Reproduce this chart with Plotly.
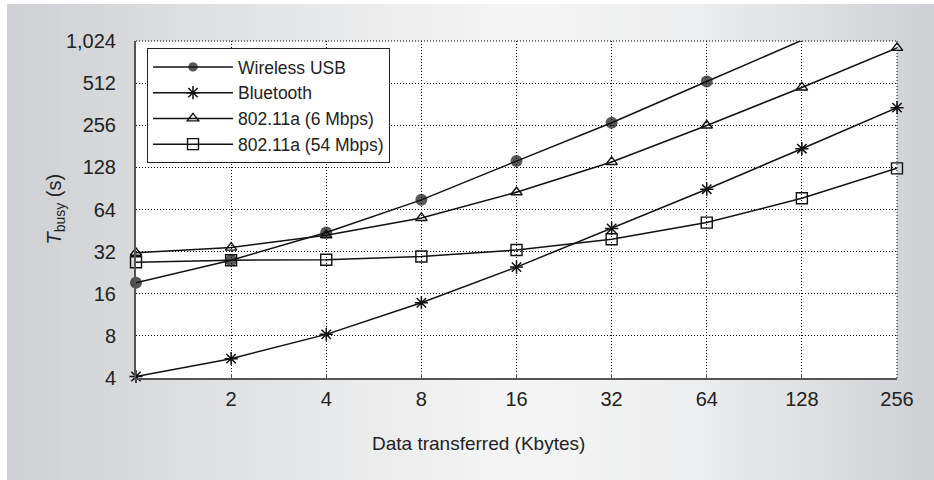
import plotly.graph_objects as go

# ---- data ----
x_kbytes = [1, 2, 4, 8, 16, 32, 64, 128, 256]
wireless_usb = [19.2, 27.8, 43.8, 75, 142, 267, 526, 1036, None]
bluetooth = [4.1, 5.5, 8.2, 13.8, 24.8, 46.8, 89.4, 174, 342]
wifi_6 = [31.4, 34.2, 41.9, 55.7, 85, 140, 255, 477, 915]
wifi_54 = [26.9, 27.8, 28.0, 29.5, 32.9, 39.2, 51.6, 77, 126]

series_names = ["Wireless USB", "Bluetooth", "802.11a (6 Mbps)", "802.11a (54 Mbps)"]
x_tickvals = [2, 4, 8, 16, 32, 64, 128, 256]
x_ticktext = ["2", "4", "8", "16", "32", "64", "128", "256"]
y_tickvals = [4, 8, 16, 32, 64, 128, 256, 512, 1024]
y_ticktext = ["4", "8", "16", "32", "64", "128", "256", "512", "1,024"]

# ---- layout geometry (pixels) ----
W, H = 934, 480
PL, PR, PT, PB = 136, 897, 41, 378
pw, ph = PR - PL, PB - PT


def px_to_paper_x(px):
    return (px - PL) / pw


def px_to_paper_y(py):
    return (PB - py) / ph


LINE = "#111111"
FONT = "Liberation Sans, Arial, sans-serif"

fig = go.Figure()

styles = [
    dict(symbol="circle", size=[12, 12, 12, 12, 12, 12, 12, 0, 0], line=dict(width=0), color=LINE),
    dict(symbol="asterisk-open", size=11, line=dict(width=1.5, color=LINE), color=LINE),
    dict(symbol="triangle-up-open", size=10, line=dict(width=1.4, color=LINE), color=LINE),
    dict(symbol="square-open", size=11, line=dict(width=1.4, color=LINE), color=LINE),
]
for name, ys, mk in zip(series_names, [wireless_usb, bluetooth, wifi_6, wifi_54], styles):
    fig.add_trace(go.Scatter(
        x=x_kbytes, y=ys, name=name, mode="lines+markers",
        line=dict(color=LINE, width=1.5),
        marker=mk, cliponaxis=False, connectgaps=False,
    ))

# ---- background gradient (horizontal) ----
shapes = []
stops = [(7, (206, 208, 211)), (300, (230, 231, 232)), (520, (245, 245, 245)), (700, (236, 237, 238)), (934, (206, 208, 211))]


def col_at(px):
    for (x0, c0), (x1, c1) in zip(stops[:-1], stops[1:]):
        if x0 <= px <= x1:
            t = (px - x0) / (x1 - x0)
            return tuple(round(a + (b - a) * t) for a, b in zip(c0, c1))
    return stops[-1][1]


n = 120
bx0, bx1, by0, by1 = 7, 934, 4, 480
for i in range(n):
    a = bx0 + (bx1 - bx0) * i / n
    b = bx0 + (bx1 - bx0) * (i + 1) / n
    c = col_at((a + b) / 2)
    shapes.append(dict(
        type="rect", xref="paper", yref="paper", layer="below",
        x0=px_to_paper_x(a), x1=px_to_paper_x(b + 0.6),
        y0=px_to_paper_y(by1), y1=px_to_paper_y(by0),
        fillcolor="rgb(%d,%d,%d)" % c, line=dict(width=0),
    ))
# white plot area
shapes.append(dict(type="rect", xref="paper", yref="paper", layer="below",
                   x0=0, x1=1, y0=0, y1=1, fillcolor="white", line=dict(width=0)))
# dotted top and right frame
shapes.append(dict(type="line", xref="paper", yref="paper", layer="below",
                   x0=0, x1=1, y0=1, y1=1, line=dict(color="#000", width=1, dash="1px,2px")))
shapes.append(dict(type="line", xref="paper", yref="paper", layer="below",
                   x0=1, x1=1, y0=0, y1=1, line=dict(color="#000", width=1, dash="1px,2px")))

fig.update_layout(
    width=W, height=H,
    margin=dict(l=PL, r=W - PR, t=PT, b=H - PB, pad=0),
    paper_bgcolor="white", plot_bgcolor="white",
    font=dict(family=FONT, color="#222", size=19),
    shapes=shapes,
    showlegend=True,
    legend=dict(
        x=px_to_paper_x(147), y=px_to_paper_y(48), xanchor="left", yanchor="top",
        bgcolor="white", bordercolor="#222", borderwidth=1,
        font=dict(family=FONT, size=17.5, color="#222"),
        tracegroupgap=0, itemwidth=80,
    ),
    annotations=[
        dict(
            text="<i>T</i><sub>busy</sub> (s)", xref="paper", yref="paper",
            x=px_to_paper_x(55), y=0.5, xanchor="center", yanchor="middle",
            textangle=-90, showarrow=False, font=dict(size=20, family=FONT, color="#222"),
        ),
        dict(
            text="Data transferred (Kbytes)", xref="paper", yref="paper",
            x=px_to_paper_x(478), y=px_to_paper_y(443), xanchor="center", yanchor="middle",
            showarrow=False, font=dict(size=19, family=FONT, color="#222"),
        ),
    ],
    xaxis=dict(
        type="log", range=[0, 2.40824], tickvals=x_tickvals, ticktext=x_ticktext,
        showgrid=True, gridcolor="#000", griddash="1px,2px", gridwidth=1,
        showline=True, linecolor="#555", linewidth=2,
        ticks="inside", ticklen=4, tickcolor="#555",
        tickfont=dict(size=20, family=FONT, color="#222"),
        ticklabelstandoff=2,
        zeroline=False,
    ),
    yaxis=dict(
        type="log", range=[0.60206, 3.0103], tickvals=y_tickvals, ticktext=y_ticktext,
        showgrid=True, gridcolor="#000", griddash="1px,2px", gridwidth=1,
        showline=True, linecolor="#555", linewidth=2,
        ticks="", tickfont=dict(size=20, family=FONT, color="#222"),
        ticklabelstandoff=14,
        zeroline=False,
    ),
)

fig.write_html("out.html")
